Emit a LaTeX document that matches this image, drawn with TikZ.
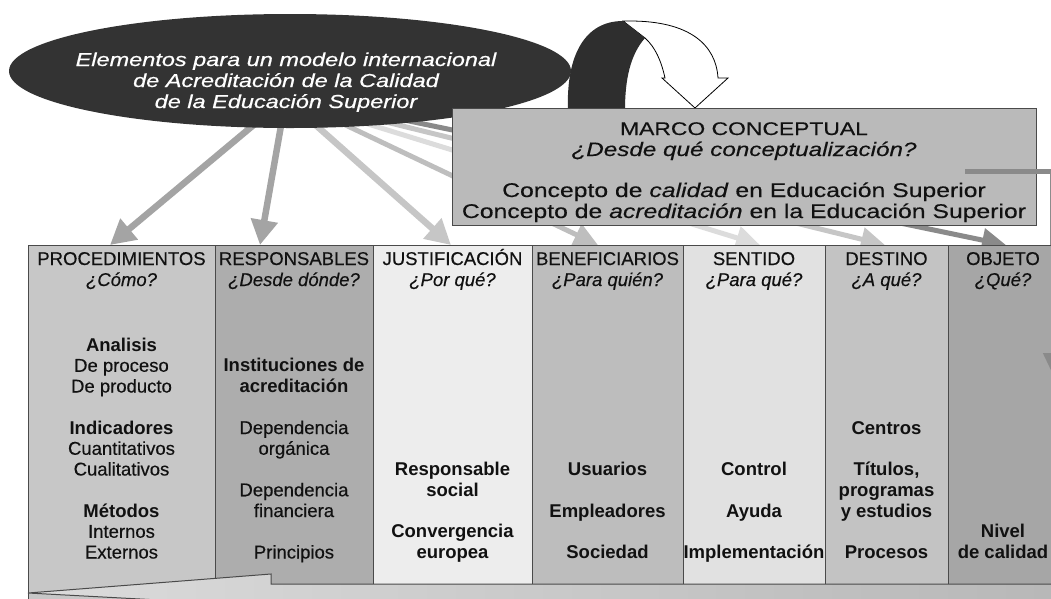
\documentclass[tikz,border=0pt]{standalone}
\usepackage{fontspec}
\setmainfont{Liberation Sans}[UprightFeatures={FakeBold=0.35},ItalicFeatures={FakeBold=0.35}]
\newfontfamily\widefont{Liberation Sans}[FakeStretch=1.25,UprightFeatures={FakeBold=0.35},ItalicFeatures={FakeBold=0.35}]
\newfontfamily\ellfont{Liberation Sans}[FakeStretch=1.25,FakeBold=0.6]
\usetikzlibrary{arrows.meta,shapes.geometric}
\definecolor{ellfill}{HTML}{333333}
\definecolor{bandfill}{HTML}{2E2E2E}
\definecolor{marcofill}{HTML}{BABABA}
\definecolor{edge}{HTML}{4A4A4A}
\definecolor{aMid}{HTML}{A4A4A4}
\definecolor{aLight}{HTML}{C6C6C6}
\definecolor{aLighter}{HTML}{DCDCDC}
\definecolor{aBen}{HTML}{BEBEBE}
\definecolor{aDark}{HTML}{8A8A8A}
\definecolor{colP}{HTML}{C7C7C7}
\definecolor{colR}{HTML}{ADADAD}
\definecolor{colJ}{HTML}{EDEDED}
\definecolor{colB}{HTML}{BDBDBD}
\definecolor{colS}{HTML}{E1E1E1}
\definecolor{colD}{HTML}{C3C3C3}
\definecolor{colO}{HTML}{A6A6A6}
\definecolor{txt}{HTML}{111111}
\begin{document}
\begin{tikzpicture}[x=1pt,y=-1pt,
  feed/.style={line width=6.5pt,-{Triangle[length=25pt,width=26pt]}},
  thinfeed/.style={line width=5pt,-{Triangle[length=24pt,width=23pt]}},
  colbox/.style={draw=edge,line width=1pt,anchor=north west,minimum height=370pt,inner sep=0pt},
  ctext/.style={anchor=base,inner sep=0pt,text=txt,font=\fontsize{18.5}{20}\selectfont},
  btext/.style={anchor=base,inner sep=0pt,text=txt,font=\fontsize{18.5}{20}\selectfont\bfseries},
  itext/.style={anchor=base,inner sep=0pt,text=txt,font=\fontsize{18.5}{20}\selectfont\itshape},
  mtext/.style={anchor=base,inner sep=0pt,text=txt,font=\widefont\fontsize{19.8}{20}\selectfont},
  etext/.style={anchor=base,inner sep=0pt,text=white,font=\ellfont\fontsize{18.8}{20}\selectfont\itshape},
]
\useasboundingbox (0,0) rectangle (1051,598);
\clip (0,0) rectangle (1051,598);

% arrow end points
\coordinate (s1) at (262,118); \coordinate (t1) at (110,245);
\coordinate (s2) at (282,120); \coordinate (t2) at (260,245);
\coordinate (s3) at (310,120); \coordinate (t3) at (451,245);
\coordinate (s4) at (335,120); \coordinate (t4) at (598,245);
\coordinate (s5) at (355,120); \coordinate (t5) at (760,245);
\coordinate (s6) at (370,118); \coordinate (t6) at (885,245);
\coordinate (s7) at (385,116); \coordinate (t7) at (1006,245);

\draw[feed,aMid] (s1) -- (t1);
\draw[feed,aMid] (s2) -- (t2);
\draw[feed,aLight] (s3) -- (t3);
\draw[thinfeed,aBen] (s4) -- (t4);
\draw[thinfeed,aLighter] (s5) -- (t5);
\draw[thinfeed,aLight] (s6) -- (t6);
\draw[thinfeed,aDark] (s7) -- (t7);

% ellipse
\node[ellipse,fill=ellfill,minimum width=562pt,minimum height=114pt,inner sep=0pt] (ell) at (290,71) {};

% curved block arrow
\filldraw[fill=white,draw=black,line width=0.8pt] (623,21) -- (630,21) .. controls (690,21) and (716,45) .. (718,78) -- (728,78) -- (695,108) -- (662,78) -- (665,78) .. controls (661,60) and (655,47) .. (645,38) -- cycle;
\fill[bandfill] (568,110) .. controls (566,55) and (585,21) .. (623,21) -- (645,38) .. controls (630,55) and (625,80) .. (625,110) -- cycle;

\node[etext] (e1) at (286,66) {Elementos para un modelo internacional};
\node[etext] (e2) at (286,87) {de Acreditación de la Calidad};
\node[etext] (e3) at (286,108) {de la Educación Superior};

% marco conceptual
\node[draw=edge,fill=marcofill,line width=1.2pt,anchor=north west,minimum width=584pt,minimum height=117pt,inner sep=0pt] (marco) at (452,108) {};
\node[mtext,font=\widefont\fontsize{18.3}{20}\selectfont] (m1) at (744,135) {MARCO CONCEPTUAL};
\node[mtext,font=\widefont\fontsize{19.4}{20}\selectfont\itshape] (m2) at (744,156) {¿Desde qué conceptualización?};
\node[mtext] (m3) at (744,197) {Concepto de \textit{calidad} en Educación Superior};
\node[mtext] (m4) at (744,218) {Concepto de \textit{acreditación} en la Educación Superior};

% columns
\node[colbox,fill=colP,minimum width=187pt] (cP) at (28,245) {};
\node[colbox,fill=colR,minimum width=158pt] (cR) at (215,245) {};
\node[colbox,fill=colJ,minimum width=159pt] (cJ) at (373,245) {};
\node[colbox,fill=colB,minimum width=151pt] (cB) at (532,245) {};
\node[colbox,fill=colS,minimum width=142pt] (cS) at (683,245) {};
\node[colbox,fill=colD,minimum width=123pt] (cD) at (825,245) {};
\node[colbox,fill=colO,minimum width=120pt] (cO) at (948,245) {};

% arrow from marco to the right and down
\coordinate (r0) at (965,171);
\coordinate (r1) at (1057,171);
\coordinate (r2) at (1057,383);
\coordinate (r3) at (1050,171);
\coordinate (r4) at (1050,245);
\draw[line width=5pt,aDark,-{Triangle[length=30pt,width=27pt]}] (r0) -- (r1) -- (r2);
\draw[line width=0.8pt,black!45] (r3) -- (r4);

% bottom block arrow
\path[draw=edge,line width=1pt,left color=black!14,right color=black!28] (28,593) -- (271,574) -- (271,584) -- (1060,584) -- (1060,620) -- (271,620) -- (271,606) -- cycle;

% headers
\node[ctext] (hP1) at (121.5,265) {PROCEDIMIENTOS};
\node[itext] (hP2) at (121.5,286) {¿Cómo?};
\node[ctext] (hR1) at (294,265) {RESPONSABLES};
\node[itext] (hR2) at (294,286) {¿Desde dónde?};
\node[ctext] (hJ1) at (452.5,265) {JUSTIFICACIÓN};
\node[itext] (hJ2) at (452.5,286) {¿Por qué?};
\node[ctext] (hB1) at (607.5,265) {BENEFICIARIOS};
\node[itext] (hB2) at (607.5,286) {¿Para quién?};
\node[ctext] (hS1) at (754,265) {SENTIDO};
\node[itext] (hS2) at (754,286) {¿Para qué?};
\node[ctext] (hD1) at (886.5,265) {DESTINO};
\node[itext] (hD2) at (886.5,286) {¿A qué?};
\node[ctext] (hO1) at (1003,265) {OBJETO};
\node[itext] (hO2) at (1003,286) {¿Qué?};

% PROCEDIMIENTOS body
\node[btext] (p0) at (121.5,351) {Analisis};
\node[ctext] (p1) at (121.5,371.75) {De proceso};
\node[ctext] (p2) at (121.5,392.5) {De producto};
\node[btext] (p4) at (121.5,434) {Indicadores};
\node[ctext] (p5) at (121.5,454.75) {Cuantitativos};
\node[ctext] (p6) at (121.5,475.5) {Cualitativos};
\node[btext] (p8) at (121.5,517) {Métodos};
\node[ctext] (p9) at (121.5,537.75) {Internos};
\node[ctext] (p10) at (121.5,558.5) {Externos};

% RESPONSABLES body
\node[btext] (r1t) at (294,371.75) {Instituciones de};
\node[btext] (r2t) at (294,392.5) {acreditación};
\node[ctext] (r4t) at (294,434) {Dependencia};
\node[ctext] (r5t) at (294,454.75) {orgánica};
\node[ctext] (r7t) at (294,496.25) {Dependencia};
\node[ctext] (r8t) at (294,517) {financiera};
\node[ctext] (r10t) at (294,558.5) {Principios};

% JUSTIFICACION body
\node[btext] (j6) at (452.5,475.5) {Responsable};
\node[btext] (j7) at (452.5,496.25) {social};
\node[btext] (j9) at (452.5,537.75) {Convergencia};
\node[btext] (j10) at (452.5,558.5) {europea};

% BENEFICIARIOS body
\node[btext] (b6) at (607.5,475.5) {Usuarios};
\node[btext] (b8) at (607.5,517) {Empleadores};
\node[btext] (b10) at (607.5,558.5) {Sociedad};

% SENTIDO body
\node[btext] (sn6) at (754,475.5) {Control};
\node[btext] (sn8) at (754,517) {Ayuda};
\node[btext] (sn10) at (754,558.5) {Implementación};

% DESTINO body
\node[btext] (d4) at (886.5,434) {Centros};
\node[btext] (d6) at (886.5,475.5) {Títulos,};
\node[btext] (d7) at (886.5,496.25) {programas};
\node[btext] (d8) at (886.5,517) {y estudios};
\node[btext] (d10) at (886.5,558.5) {Procesos};

% OBJETO body
\node[btext] (o9) at (1003,537.75) {Nivel};
\node[btext] (o10) at (1003,558.5) {de calidad};
\end{tikzpicture}
\end{document}
